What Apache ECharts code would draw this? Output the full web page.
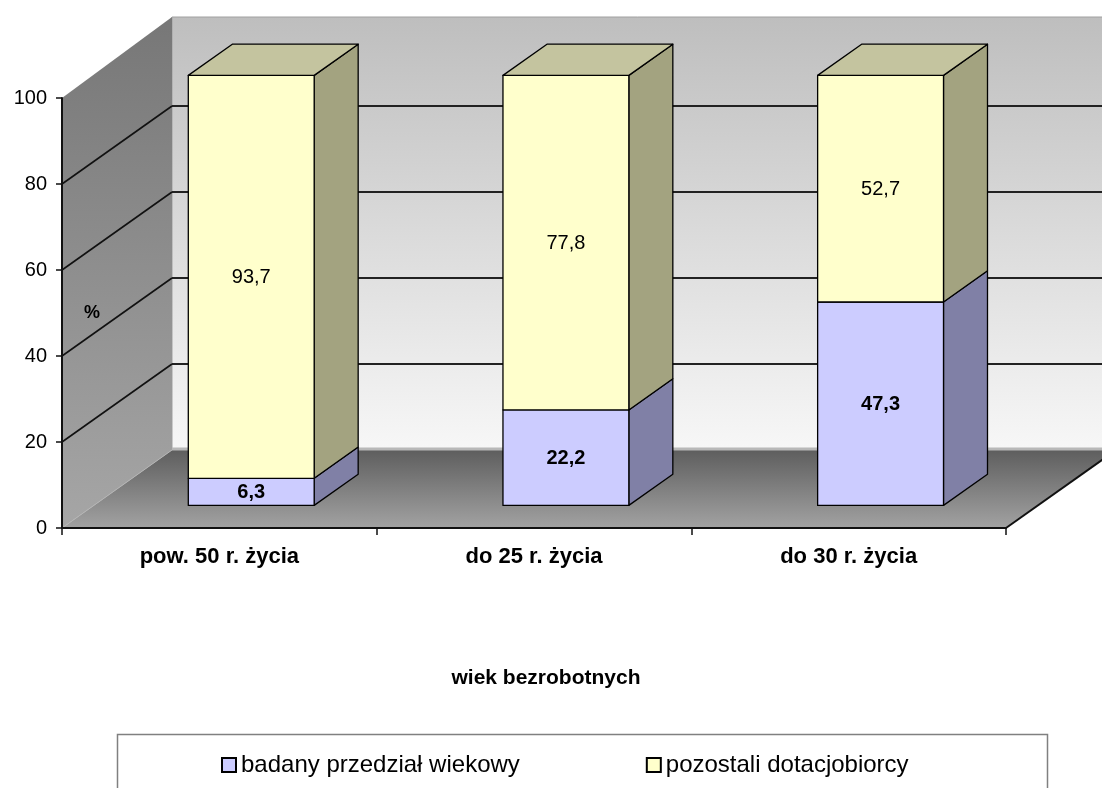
<!DOCTYPE html>
<html>
<head>
<meta charset="utf-8">
<script src="https://cdn.jsdelivr.net/npm/echarts@6/dist/echarts.min.js"></script>
<style>
html,body{margin:0;padding:0;background:#fff;}
#chart{width:1102px;height:788px;}
</style>
</head>
<body>
<div id="chart"></div>
<script>
// ---- data ----
var categories = ['pow. 50 r. życia', 'do 25 r. życia', 'do 30 r. życia'];
var badany = [6.3, 22.2, 47.3];
var pozostali = [93.7, 77.8, 52.7];
var seriesNames = ['badany przedział wiekowy', 'pozostali dotacjobiorcy'];
var yTicks = [0, 20, 40, 60, 80, 100];
var xName = 'wiek bezrobotnych';
var yName = '%';

// ---- style / layout constants ----
var FONT = 'Liberation Sans, Arial, sans-serif';
var DEPTH = [110, -78];      // full 3D depth offset in px
var BAR_FRONT = 0.29;        // bar front plane, fraction of depth
var BAR_DEPTH = 0.40;        // bar thickness, fraction of depth
var BAR_W = 0.40;            // bar width, fraction of band
var COLORS = {
  blue: {front: '#CCCCFF', side: '#8080A6', top: '#A3A3CC'},
  yellow: {front: '#FFFFCC', side: '#A3A380', top: '#C4C49F'}
};

var chart = echarts.init(document.getElementById('chart'), null, {renderer: 'canvas'});

function fmt(v) { return v.toFixed(1).replace('.', ','); }

function renderWalls(params, api) {
  var n = categories.length;
  var band = api.size([1, 0])[0];
  var x0 = api.coord([0, 0])[0] - band / 2;
  var x1 = api.coord([n - 1, 0])[0] + band / 2;
  var yMin = yTicks[0], yMax = yTicks[yTicks.length - 1];
  var y0 = api.coord([0, yMin])[1];
  var yT = api.coord([0, yMax])[1];
  var dx = DEPTH[0], dy = DEPTH[1];
  var ch = [];
  // back wall
  ch.push({type: 'rect', shape: {x: x0 + dx, y: yT + dy - 3, width: x1 - x0, height: y0 - yT + 3},
    style: {fill: {type: 'linear', x: 0, y: 0, x2: 0, y2: 1, colorStops: [
      {offset: 0, color: '#BEBEBE'}, {offset: 1, color: '#F7F7F7'}]}, stroke: '#A0A0A0', lineWidth: 1}});
  // left wall
  ch.push({type: 'polygon', shape: {points: [[x0, y0], [x0 + dx, y0 + dy], [x0 + dx, yT + dy - 3], [x0, yT]]},
    style: {fill: {type: 'linear', x: 0, y: 0, x2: 0, y2: 1, colorStops: [
      {offset: 0, color: '#777777'}, {offset: 1, color: '#A6A6A6'}]}}});
  // floor
  ch.push({type: 'polygon', shape: {points: [[x0, y0], [x1, y0], [x1 + dx, y0 + dy], [x0 + dx, y0 + dy]]},
    style: {fill: {type: 'linear', x: 0, y: 0, x2: 0, y2: 1, colorStops: [
      {offset: 0, color: '#5E5E5E'}, {offset: 1, color: '#A2A2A2'}]}}});
  // thin light band at bottom of back wall
  ch.push({type: 'line', shape: {x1: x0 + dx, y1: y0 + dy - 1, x2: x1 + dx, y2: y0 + dy - 1},
    style: {stroke: '#B8B8B8', lineWidth: 3}});
  // gridlines
  for (var i = 1; i < yTicks.length - 1; i++) {
    var y = api.coord([0, yTicks[i]])[1];
    ch.push({type: 'line', shape: {x1: x0 + dx, y1: y + dy, x2: x1 + dx, y2: y + dy},
      style: {stroke: '#222', lineWidth: 2}});
    ch.push({type: 'line', shape: {x1: x0, y1: y, x2: x0 + dx, y2: y + dy},
      style: {stroke: '#111', lineWidth: 1.6}});
  }
  // left-wall/floor seam
  ch.push({type: 'line', shape: {x1: x0, y1: y0, x2: x0 + dx, y2: y0 + dy},
    style: {stroke: '#B5B5B5', lineWidth: 1}});
  // floor right edge
  ch.push({type: 'line', shape: {x1: x1, y1: y0, x2: x1 + dx, y2: y0 + dy},
    style: {stroke: '#111', lineWidth: 2}});
  return {type: 'group', children: ch};
}

function makeBarRenderer(scheme, isTop, bold) {
  return function (params, api) {
    var c = api.value(0), base = api.value(1), val = api.value(2);
    var band = api.size([1, 0])[0];
    var center = api.coord([c, 0])[0];
    var w = band * BAR_W;
    var fx = center - w / 2 + BAR_FRONT * DEPTH[0];
    var fy = BAR_FRONT * DEPTH[1];
    var yb = api.coord([c, base])[1] + fy;
    var yt = api.coord([c, base + val])[1] + fy;
    var ddx = BAR_DEPTH * DEPTH[0], ddy = BAR_DEPTH * DEPTH[1];
    var stroke = {stroke: '#000', lineWidth: 1.3, lineJoin: 'round'};
    var ch = [];
    ch.push({type: 'polygon', shape: {points: [[fx + w, yb], [fx + w + ddx, yb + ddy], [fx + w + ddx, yt + ddy], [fx + w, yt]]},
      style: Object.assign({fill: scheme.side}, stroke)});
    ch.push({type: 'rect', shape: {x: fx, y: yt, width: w, height: yb - yt},
      style: Object.assign({fill: scheme.front}, stroke)});
    if (isTop) {
      ch.push({type: 'polygon', shape: {points: [[fx, yt], [fx + ddx, yt + ddy], [fx + w + ddx, yt + ddy], [fx + w, yt]]},
        style: Object.assign({fill: scheme.top}, stroke)});
    }
    ch.push({type: 'text', x: fx + w / 2, y: (yt + yb) / 2 + 1,
      style: {text: fmt(val), fill: '#000', font: (bold ? 'bold ' : '') + '20px ' + FONT,
        align: 'center', verticalAlign: 'middle'}});
    return {type: 'group', children: ch};
  };
}

var blueData = badany.map(function (v, i) { return [i, 0, v]; });
var yellowData = pozostali.map(function (v, i) { return [i, badany[i], v]; });

var option = {
  backgroundColor: '#fff',
  animation: false,
  textStyle: {fontFamily: FONT},
  grid: {left: 62, right: 96, top: 98, bottom: 260, containLabel: false},
  xAxis: {
    type: 'category', data: categories, z: 5,
    name: xName, nameLocation: 'middle', nameGap: 140,
    nameTextStyle: {fontSize: 21, fontWeight: 'bold', color: '#000', fontFamily: FONT, padding: [0, 0, 0, 24]},
    axisLine: {show: true, lineStyle: {color: '#111', width: 2}},
    axisTick: {show: true, length: 7, lineStyle: {color: '#111', width: 1.5}},
    axisLabel: {fontSize: 22, fontWeight: 'bold', color: '#000', fontFamily: FONT, margin: 18},
    splitLine: {show: false}
  },
  yAxis: {
    type: 'value', min: yTicks[0], max: yTicks[yTicks.length - 1], interval: 20, z: 5,
    name: yName, nameLocation: 'middle', nameGap: -30, nameRotate: 0,
    nameTextStyle: {fontSize: 18, fontWeight: 'bold', color: '#000', fontFamily: FONT, align: 'center', verticalAlign: 'middle'},
    axisLine: {show: true, lineStyle: {color: '#111', width: 2}},
    axisTick: {show: true, length: 6, lineStyle: {color: '#111', width: 1.5}},
    axisLabel: {fontSize: 20, color: '#000', fontFamily: FONT, margin: 15},
    splitLine: {show: false}
  },
  legend: {
    data: seriesNames, left: 216, top: 748, itemGap: 126,
    icon: 'rect', itemWidth: 14, itemHeight: 14,
    itemStyle: {borderColor: '#000', borderWidth: 2},
    textStyle: {fontSize: 24, color: '#000', fontFamily: FONT}
  },
  graphic: [{type: 'rect', left: 115, top: 732, shape: {width: 930, height: 80},
    style: {fill: 'none', stroke: '#808080', lineWidth: 1.5}, z: -1}],
  series: [
    {type: 'custom', name: '_walls', coordinateSystem: 'cartesian2d', z: 1, silent: true,
      data: [[0, 0]], renderItem: renderWalls},
    {type: 'custom', name: seriesNames[0], coordinateSystem: 'cartesian2d', z: 2,
      itemStyle: {color: COLORS.blue.front},
      data: blueData, encode: {x: 0, y: 2}, renderItem: makeBarRenderer(COLORS.blue, false, true)},
    {type: 'custom', name: seriesNames[1], coordinateSystem: 'cartesian2d', z: 3,
      itemStyle: {color: COLORS.yellow.front},
      data: yellowData, encode: {x: 0, y: 2}, renderItem: makeBarRenderer(COLORS.yellow, true, false)}
  ]
};
chart.setOption(option);
</script>
</body>
</html>
